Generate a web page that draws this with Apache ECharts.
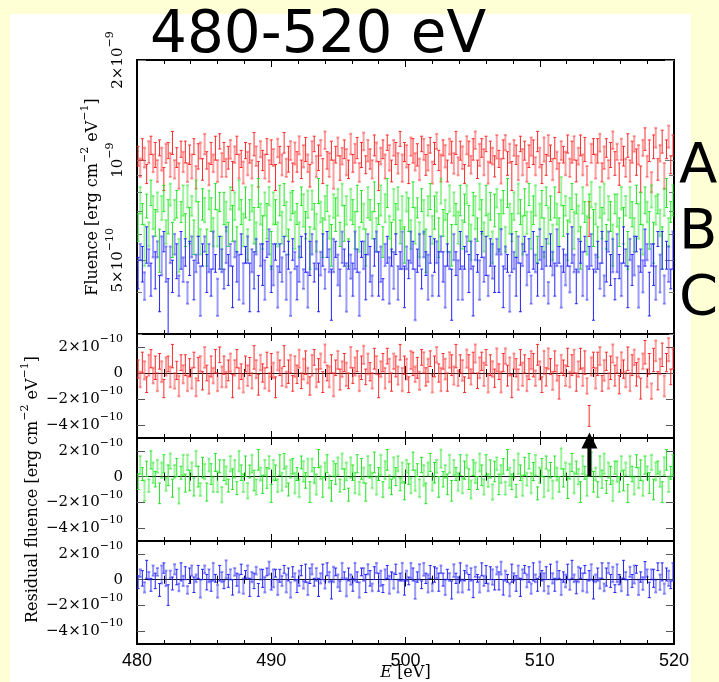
<!DOCTYPE html>
<html>
<head>
<meta charset="utf-8">
<script src="https://cdn.jsdelivr.net/npm/echarts@6/dist/echarts.min.js"></script>
<style>
  html, body { margin: 0; padding: 0; background: #ffffd6; }
  #paper { position: absolute; left: 10px; top: 14px; width: 681px; height: 668px; background: #fff; }
  #chart { position: absolute; left: 0; top: 0; width: 719px; height: 682px; }
</style>
</head>
<body>
<div id="paper"></div>
<div id="chart"></div>
<script>
const SERIF = '"DejaVu Serif", serif';
const SANS = '"DejaVu Sans", sans-serif';

// energy bins (eV)
const E_START = 480.08;
const E_STEP = 0.16;
const E_MIN = 480;
const E_MAX = 520;

// model level of each spectrum (erg cm^-2 eV^-1)
const levelA = 1.0e-9;
const levelB = 6.7e-10;
const levelC = 4.8e-10;

// residuals and 1-sigma errors, in units of 1e-11 erg cm^-2 eV^-1
const UNIT = 1e-11;
const resA = [
  3,-5,8,2,-9,6,11,-2,4,-7,9,1,-12,5,7,-3,13,-6,2,-10,8,-1,6,-8,4,
  -4,10,-11,3,7,-6,12,0,-9,5,-2,9,-7,14,-3,6,-5,2,8,-10,4,11,-4,1,-8,
  7,-2,5,-6,12,3,-9,8,0,-4,10,-7,6,2,-11,9,4,-3,13,-5,1,7,-8,5,-1,
  11,-6,3,8,-2,-10,6,12,-4,2,9,-7,15,0,-3,7,-9,4,10,-5,3,8,-1,-6,12,
  -2,5,9,-8,4,14,-3,7,1,-6,11,6,-10,3,8,-4,13,2,-7,9,5,-2,16,-5,6,
  3,-9,10,7,-1,4,-6,12,8,-3,2,11,-8,5,14,0,-5,9,3,-7,10,6,-2,13,-4,
  7,2,-9,11,5,-3,8,15,-6,4,9,-1,12,-8,6,3,-4,10,1,-7,8,13,-2,5,-10,
  9,4,-5,12,-1,7,-8,3,10,6,-4,14,2,-9,8,-3,11,5,-6,9,0,-11,7,4,-2,
  12,-5,6,9,-7,3,11,-3,8,-10,-33,5,10,-4,7,13,-8,2,9,-6,4,15,-2,6,-9,
  8,3,-5,11,-7,6,12,-1,4,-12,9,16,-4,7,-14,10,17,-6,5,14,-10,8,18,-3,11
];
const errA = [
  7,6,8,7,6,8,7,6,9,7,6,8,7,7,6,8,9,6,7,8,6,7,8,6,7,
  8,6,7,9,6,7,8,6,7,8,6,9,7,6,8,7,6,8,7,9,6,7,8,6,7,
  6,8,7,6,9,7,8,6,7,8,6,7,9,6,8,7,6,7,8,6,9,7,6,8,7,
  7,6,8,9,6,7,8,6,7,9,6,8,7,6,8,7,9,6,7,8,6,7,9,6,8,
  6,7,8,6,9,7,6,8,7,6,8,7,9,6,7,8,6,9,7,6,8,7,6,9,7,
  8,6,7,9,6,8,7,6,8,7,9,6,7,8,6,7,9,6,8,7,6,8,7,9,6,
  7,8,6,7,9,6,8,7,6,8,7,9,6,7,8,6,7,9,6,8,7,6,8,7,9,
  6,7,8,6,9,7,6,8,7,9,6,8,7,6,9,7,8,6,7,8,6,9,7,6,8,
  7,6,8,9,7,6,8,7,9,6,8,7,6,8,9,7,6,8,7,6,9,7,8,6,7,
  8,7,6,9,7,8,6,9,7,8,6,9,7,8,6,9,8,7,6,9,8,7,9,6,8
];
const resB = [
  -4,9,2,-11,6,-7,13,3,-2,8,-13,5,10,-6,1,12,-9,4,7,-15,3,9,-5,11,-3,
  6,-8,14,0,-10,7,4,-12,9,2,-6,11,-4,8,-14,5,1,-7,10,-2,6,-9,12,3,-5,
  8,-11,4,10,-3,-8,13,2,-6,7,-1,11,-13,5,3,-7,9,-4,12,0,-10,6,8,-5,2,
  -9,11,4,-3,7,-12,9,1,-6,14,3,-8,5,10,-4,-11,6,2,8,-7,12,-2,4,-14,7,
  3,-5,10,-9,6,1,-12,8,4,-3,11,-7,2,9,-10,5,13,-4,-8,7,0,10,-6,3,-11,
  8,2,-7,12,-3,5,-9,9,1,-13,6,11,-5,3,8,-8,14,-2,4,-6,10,-11,7,2,-4,
  9,-7,5,12,-2,-10,7,3,-5,11,1,-8,9,-3,6,-12,4,10,-6,2,8,-9,13,0,-4,
  6,-11,10,3,-7,8,-2,12,-5,4,9,-13,1,7,-8,11,-3,5,-10,8,2,-6,14,-1,6,
  -9,4,11,-5,7,0,-12,9,3,-7,6,12,-4,2,-10,8,-2,10,-8,5,1,-11,7,4,-6,
  10,-3,6,-13,8,2,-7,12,-1,5,-9,9,3,-5,11,-10,4,7,-2,-12,8,13,-6,3,9
];
const errB = [
  6,7,5,8,6,5,7,8,6,5,8,6,7,5,8,6,7,5,7,6,5,8,7,6,8,
  5,7,6,8,5,8,6,7,5,8,6,7,8,5,6,8,7,5,6,8,7,5,8,6,7,
  8,6,5,7,8,6,8,5,7,6,8,5,7,8,6,5,8,7,6,8,5,7,6,8,5,
  7,5,8,6,7,8,5,6,8,7,5,8,6,7,5,8,6,8,7,5,6,8,7,5,8,
  6,8,7,5,8,6,7,8,5,6,8,7,5,8,6,7,8,5,6,8,7,6,5,8,7,
  5,8,6,7,8,5,7,6,8,8,5,7,6,8,5,8,7,6,5,8,7,8,6,5,7,
  8,6,7,5,8,7,6,8,5,7,8,6,8,5,7,6,8,5,8,7,6,5,8,7,6,
  7,5,8,6,8,7,5,6,8,7,8,5,6,7,8,5,8,6,7,8,5,6,8,7,5,
  8,6,7,8,5,6,8,7,5,8,6,7,8,5,6,8,7,8,5,6,7,8,5,8,6,
  6,8,5,7,8,6,7,5,8,8,6,7,5,8,6,8,7,5,6,8,7,8,6,5,8
];
const resC = [
  -2,5,1,-6,8,3,-4,7,-1,6,-8,4,9,1,-12,4,-3,8,2,-6,6,-1,5,-8,3,
  7,-4,1,6,-7,4,8,-2,3,-5,6,1,-9,5,2,-4,8,-1,4,-6,6,0,-3,8,-5,
  4,6,-6,2,-1,7,-8,4,1,-4,6,9,-4,1,5,-6,3,-1,8,-3,4,-8,6,2,-5,
  1,7,-4,5,-7,3,8,-2,4,-6,1,6,-4,8,2,-8,4,6,-1,-5,7,3,-6,4,0,
  -4,6,2,-8,6,4,-3,8,1,-6,5,9,-2,1,-7,4,6,-4,3,-1,8,-5,2,6,-6,
  3,-1,7,4,-8,2,6,-4,8,1,-3,6,-6,4,5,-2,8,0,-6,4,2,-8,7,1,-4,
  6,-5,3,8,-2,4,-7,6,1,-4,8,-1,4,-6,5,2,-4,7,-1,9,-6,3,1,-8,5,
  2,-3,6,-6,4,8,-1,4,-7,6,1,-4,8,3,-2,5,-8,6,1,-4,7,4,-6,2,-1,
  6,-4,8,1,-6,4,5,-2,8,-5,3,6,-8,1,4,-3,7,-6,2,9,-1,4,-7,5,0,
  -4,8,3,-6,6,-1,4,8,-6,2,-3,7,5,-8,4,1,-5,10,-2,6,-7,4,1,-4,6
];
const errC = [
  5,3,6,4,7,3,5,4,6,3,5,7,4,6,8,3,5,4,6,3,7,4,5,3,6,
  4,6,3,5,7,4,3,6,5,4,7,3,5,6,4,3,7,5,4,6,3,5,7,4,6,
  3,5,7,4,6,3,5,4,7,6,3,5,4,7,3,6,5,4,3,7,5,6,4,3,5,
  6,4,3,7,5,6,4,3,5,7,4,6,3,5,4,7,6,3,5,4,6,3,7,5,4,
  5,7,4,6,3,5,7,4,6,3,5,4,7,6,3,4,5,7,3,6,4,5,3,7,6,
  4,3,6,5,7,4,6,3,5,4,7,5,3,6,4,7,3,5,6,4,3,7,5,4,6,
  7,5,4,3,6,5,7,4,3,6,5,4,7,3,5,6,4,3,7,5,6,4,3,5,7,
  3,6,5,7,4,3,5,6,4,7,3,5,6,4,7,5,3,6,4,5,7,3,6,4,5,
  6,4,7,3,5,6,4,7,3,5,4,6,7,3,5,4,6,3,7,4,5,6,3,7,4,
  5,7,3,6,4,5,7,3,6,4,5,7,3,6,4,7,5,3,6,7,4,5,6,3,7
];

const fluenceTicks = [5e-10, 1e-9, 2e-9];
const fluenceMinorTicks = [3e-10, 4e-10, 6e-10, 7e-10, 8e-10, 9e-10];
const residualTicks = [-4e-10, -2e-10, 0, 2e-10];
const letters = ['A', 'B', 'C'];
const arrowE = 513.7;
const arrowTop = 2.8e-10;

// fluence range of the plot, and of a taller label-only axis sharing its scale
const FLU_MIN = 3e-10;
const FLU_MAX = 2e-9;
const FLU_LABEL_MAX = 2.462e-9;

const colors = { A: [255, 42, 42], B: [34, 230, 34], C: [35, 35, 255] };

const energies = resA.map((_, i) => +(E_START + E_STEP * i).toFixed(2));

function fluenceData(level, res, err) {
  return res.map((r, i) => [energies[i], level + r * UNIT, err[i] * UNIT]);
}
function residualData(res, err) {
  return res.map((r, i) => [energies[i], r * UNIT, err[i] * UNIT]);
}

function sciLabel(v) {
  if (Math.abs(v) < 1e-20) return '{m|0}';
  const exp = Math.floor(Math.log10(Math.abs(v)) + 1e-6);
  const mant = Math.round(v / Math.pow(10, exp));
  const sign = mant < 0 ? '−' : '';
  const body = Math.abs(mant) === 1 ? sign + '10' : sign + Math.abs(mant) + '×10';
  return '{m|' + body + '}{s|−' + Math.abs(exp) + '}';
}

const tickRich = {
  m: { fontFamily: SERIF, fontSize: 15, lineHeight: 26, color: '#000' },
  s: { fontFamily: SERIF, fontSize: 11, lineHeight: 12, verticalAlign: 'top', color: '#000' }
};
const nameRich = {
  s: { fontFamily: SERIF, fontSize: 11, lineHeight: 12, verticalAlign: 'top', color: '#000' },
  i: { fontFamily: SERIF, fontSize: 16, fontStyle: 'italic', lineHeight: 24, color: '#000' }
};

function errorBars(rgb) {
  const dark = 'rgb(' + rgb.join(',') + ')';
  const light = 'rgba(' + rgb.join(',') + ',0.45)';
  return function (params, api) {
    const x = api.value(0), y = api.value(1), e = api.value(2);
    const hi = api.coord([x, y + e]);
    const lo = api.coord([x, y - e]);
    const pale = params.dataIndex % 2 === 1;
    const style = { stroke: pale ? light : dark, lineWidth: pale ? 2 : 1 };
    return {
      type: 'group',
      children: [
        { type: 'line', shape: { x1: hi[0], y1: hi[1], x2: lo[0], y2: lo[1] }, style },
        { type: 'line', shape: { x1: hi[0] - 1.5, y1: hi[1], x2: hi[0] + 1.5, y2: hi[1] }, style },
        { type: 'line', shape: { x1: lo[0] - 1.5, y1: lo[1], x2: lo[0] + 1.5, y2: lo[1] }, style }
      ]
    };
  };
}

function frameX(grid, pos, labels, name) {
  const ax = {
    type: 'value', gridIndex: grid, position: pos, min: E_MIN, max: E_MAX, interval: 10,
    axisLine: { show: true, onZero: false, lineStyle: { color: '#000', width: 2 } },
    axisTick: { show: true, inside: true, length: 7, lineStyle: { color: '#000' } },
    minorTick: { show: true, splitNumber: 5, length: 4, lineStyle: { color: '#000' } },
    axisLabel: { show: labels, margin: 8, fontFamily: '"Liberation Sans", sans-serif', fontSize: 18, color: '#000' },
    splitLine: { show: false }
  };
  if (name) {
    ax.name = name;
    ax.nameLocation = 'middle';
    ax.nameGap = 17;
    ax.nameMoveOverlap = false;
    ax.nameTextStyle = { fontFamily: SERIF, fontSize: 16, color: '#000', lineHeight: 24, rich: nameRich };
  }
  return ax;
}

function zeroX(grid, up) {
  return {
    type: 'value', gridIndex: grid, position: 'bottom', min: E_MIN, max: E_MAX, interval: 10,
    axisLine: { show: true, onZero: true, lineStyle: { color: '#111', width: 1 } },
    axisTick: { show: true, inside: up, length: 7, lineStyle: { color: '#000' } },
    minorTick: { show: true, splitNumber: 5, length: 4, lineStyle: { color: '#000' } },
    axisLabel: { show: false },
    splitLine: { show: false }
  };
}

function fluenceY(pos, values, len, withName) {
  const ax = {
    type: 'log', gridIndex: 0, position: pos, min: FLU_MIN, max: FLU_MAX, logBase: 10,
    axisLine: { show: true, onZero: false, lineStyle: { color: '#000', width: 2 } },
    axisTick: { show: true, inside: true, length: len, customValues: values, lineStyle: { color: '#777' } },
    axisLabel: { show: false },
    splitLine: { show: false },
    minorTick: { show: false }
  };
  if (withName) {
    ax.name = 'Fluence [erg cm{s|−2} eV{s|−1}]';
    ax.nameLocation = 'middle';
    ax.nameGap = 31;
    ax.nameMoveOverlap = false;
    ax.nameTextStyle = { fontFamily: SERIF, fontSize: 16, color: '#000', lineHeight: 26, rich: nameRich };
  }
  return ax;
}

// label-only axis: same px/decade as the fluence panel, but extending above it
// so that the 2×10⁻⁹ label is not the end label of its axis
function fluenceLabelY() {
  return {
    type: 'log', gridIndex: 4, position: 'left', min: FLU_MIN, max: FLU_LABEL_MAX, logBase: 10,
    axisLine: { show: false }, axisTick: { show: false },
    axisLabel: { show: true, customValues: fluenceTicks, rotate: 90, margin: 6, formatter: sciLabel, rich: tickRich },
    splitLine: { show: false }, minorTick: { show: false }
  };
}

function residualY(grid, pos, labels, withName) {
  const ax = {
    type: 'value', gridIndex: grid, position: pos, min: -5e-10, max: 3e-10,
    axisLine: { show: true, onZero: false, lineStyle: { color: '#000', width: 2 } },
    axisTick: { show: true, inside: true, length: 8, customValues: residualTicks, lineStyle: { color: '#555' } },
    axisLabel: { show: labels, customValues: residualTicks, margin: 14, formatter: sciLabel, rich: tickRich },
    splitLine: { show: false }
  };
  if (withName) {
    ax.name = 'Residual fluence [erg cm{s|−2} eV{s|−1}]';
    ax.nameLocation = 'middle';
    ax.nameGap = 91;
    ax.nameMoveOverlap = false;
    ax.nameTextStyle = { fontFamily: SERIF, fontSize: 16, color: '#000', lineHeight: 26, rich: nameRich };
  }
  return ax;
}

const gridBase = { left: 137, right: 45, containLabel: false, outerBoundsMode: 'none' };
const grids = [
  Object.assign({ top: 60, height: 274 }, gridBase),
  Object.assign({ top: 334, height: 104 }, gridBase),
  Object.assign({ top: 438, height: 103 }, gridBase),
  Object.assign({ top: 541, height: 103 }, gridBase),
  Object.assign({ top: 30, height: 304 }, gridBase)
];

const xAxes = [
  frameX(0, 'bottom', false), frameX(0, 'top', false),
  frameX(1, 'bottom', false), frameX(1, 'top', false), zeroX(1, true), zeroX(1, false),
  frameX(2, 'bottom', false), frameX(2, 'top', false), zeroX(2, true), zeroX(2, false),
  frameX(3, 'bottom', true, '{i|E} [eV]'), frameX(3, 'top', false), zeroX(3, true), zeroX(3, false),
  { type: 'value', gridIndex: 4, min: E_MIN, max: E_MAX, show: false }
];
const yAxes = [
  fluenceY('left', fluenceTicks, 9, true), fluenceY('left', fluenceMinorTicks, 5, false),
  fluenceY('right', fluenceTicks, 9, false), fluenceY('right', fluenceMinorTicks, 5, false),
  residualY(1, 'left', true, false), residualY(1, 'right', false, false),
  residualY(2, 'left', true, true), residualY(2, 'right', false, false),
  residualY(3, 'left', true, false), residualY(3, 'right', false, false),
  fluenceLabelY()
];

function barSeries(name, data, rgb, xi, yi) {
  return {
    type: 'custom', name, data, xAxisIndex: xi, yAxisIndex: yi, clip: true,
    encode: { x: 0, y: 1 }, renderItem: errorBars(rgb), silent: true
  };
}

const chart = echarts.init(document.getElementById('chart'), null, { renderer: 'canvas' });
chart.setOption({
  animation: false,
  title: {
    text: '480-520 eV', left: 150, top: 8, padding: 0,
    textStyle: { fontFamily: SANS, fontSize: 58, fontWeight: 'normal', color: '#000' }
  },
  grid: grids,
  xAxis: xAxes,
  yAxis: yAxes,
  graphic: letters.map((t, i) => ({
    type: 'text', left: 679, top: 139 + i * 66,
    style: { text: t, font: '56px "DejaVu Sans"', fill: '#000' }
  })),
  series: [
    barSeries('A', fluenceData(levelA, resA, errA), colors.A, 0, 0),
    barSeries('B', fluenceData(levelB, resB, errB), colors.B, 0, 0),
    barSeries('C', fluenceData(levelC, resC, errC), colors.C, 0, 0),
    barSeries('A res', residualData(resA, errA), colors.A, 2, 4),
    barSeries('B res', residualData(resB, errB), colors.B, 6, 6),
    barSeries('C res', residualData(resC, errC), colors.C, 10, 8),
    {
      type: 'line', xAxisIndex: 6, yAxisIndex: 6, clip: false, z: 10, silent: true,
      lineStyle: { color: '#000', width: 4 }, itemStyle: { color: '#000' },
      data: [
        { value: [arrowE, 0], symbol: 'none' },
        { value: [arrowE, arrowTop], symbol: 'triangle', symbolSize: [16, 16] }
      ]
    }
  ]
});
</script>
</body>
</html>
